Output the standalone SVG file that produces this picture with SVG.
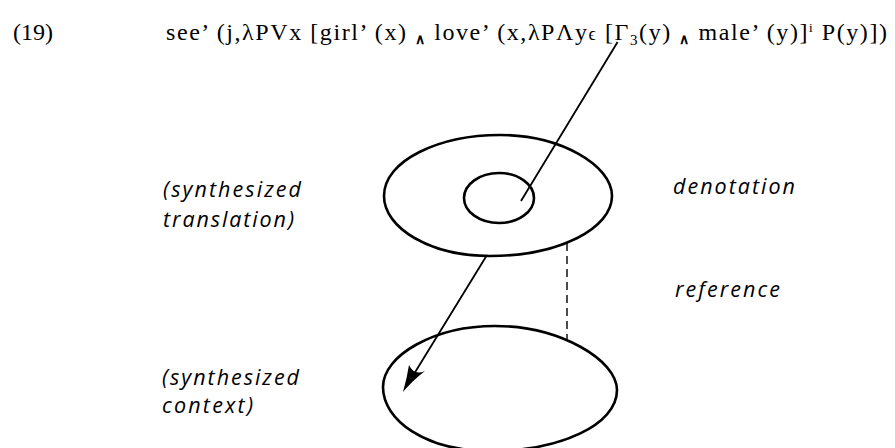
<svg xmlns="http://www.w3.org/2000/svg" width="895" height="448" viewBox="0 0 895 448">
<style>
.f{font-family:"Liberation Serif","Times New Roman",serif;font-size:24px;fill:#000}
.lab{font-family:"Open Sans","DejaVu Sans",sans-serif;font-style:italic;font-size:21.5px;fill:#000}
.sh{fill:none;stroke:#000;stroke-width:2.6}
.ln{fill:none;stroke:#000;stroke-width:1.8}
.dash{fill:none;stroke:#000;stroke-width:1.4;stroke-dasharray:8 5}
</style>
<rect width="895" height="448" fill="#fff"/>
<g id="formula">
<text class="f" x="13" y="40" textLength="40" lengthAdjust="spacing">(19)</text>
<text class="f" x="166" y="40" textLength="721" lengthAdjust="spacing">see’ (j,λPVx [girl’ (x) <tspan font-size="14" font-weight="bold" dy="4">∧</tspan><tspan dy="-4"> love’ (x,λPΛy</tspan><tspan font-size="18">ϵ</tspan> [Γ<tspan font-size="15" dy="5">3</tspan><tspan dy="-5">(y) </tspan><tspan font-size="14" font-weight="bold" dy="4">∧</tspan><tspan dy="-4"> male’ (y)]</tspan><tspan font-size="13" dy="-8">i</tspan><tspan dy="8"> P(y)])</tspan></text>
</g>
<g id="translation">
<path class="sh" d="M500,135 C560,135 612,165 612,196 C612,228 560,256 490,256 C430,256 384,228 384,196 C384,160 440,135 500,135 Z"/>
</g>
<g id="denotation-core">
<ellipse class="sh" cx="499" cy="198" rx="35" ry="25"/>
</g>
<g id="context">
<path class="sh" d="M495,326 C560,326 617,360 617,390 C617,425 560,451 490,451 C425,451 383,420 383,387 C383,355 435,326 495,326 Z"/>
</g>
<g id="labels">
<text class="lab" x="163" y="197" textLength="138" lengthAdjust="spacing">(synthesized</text>
<text class="lab" x="163" y="227" textLength="131" lengthAdjust="spacing">translation)</text>
<text class="lab" x="162" y="385" textLength="137" lengthAdjust="spacing">(synthesized</text>
<text class="lab" x="162" y="413" textLength="91" lengthAdjust="spacing">context)</text>
<text class="lab" x="673" y="194" textLength="122" lengthAdjust="spacing">denotation</text>
<text class="lab" x="675" y="297" textLength="105" lengthAdjust="spacing">reference</text>
</g>
<g id="connectors">
<line class="ln" x1="617.6" y1="42" x2="521" y2="201"/>
<line class="ln" x1="487" y1="255" x2="406" y2="387"/>
<path d="M403,392 Q407,378 409,365 Q414,376 425,371 Q412,381 403,392 Z" fill="#000"/>
<line class="dash" x1="567" y1="243" x2="567" y2="340"/>
</g>
</svg>
